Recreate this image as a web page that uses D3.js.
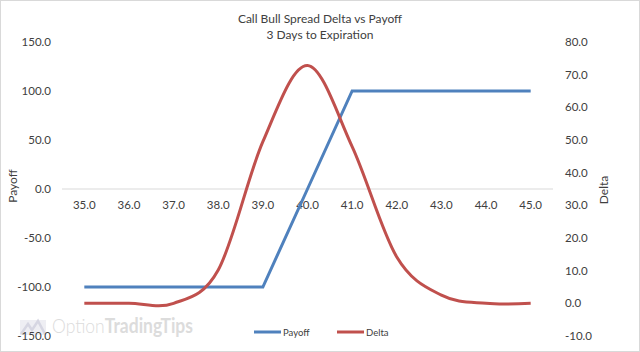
<!DOCTYPE html>
<html>
<head>
<meta charset="utf-8">
<script src="https://cdn.jsdelivr.net/npm/d3@7"></script>
<style>
  html, body { margin: 0; padding: 0; background: #fff; }
  text { font-family: Lato, "Liberation Sans", sans-serif; fill: #404040; }
</style>
</head>
<body>
<script>
// strike prices (category axis)
const strikes = [35, 36, 37, 38, 39, 40, 41, 42, 43, 44, 45]
// payoff at expiration
const payoff = [-100, -100, -100, -100, -100, 0, 100, 100, 100, 100, 100]
// delta, 3 days to expiration
const delta = [0, 0, 0, 10.2, 49.5, 72.8, 48, 14.2, 2.5, 0, 0]

const leftTicks = [-150, -100, -50, 0, 50, 100, 150]
const rightTicks = [-10, 0, 10, 20, 30, 40, 50, 60, 70, 80]
const titleLines = ["Call Bull Spread Delta vs Payoff", "3 Days to Expiration"]

const width = 640, height = 352
const plot = {left: 62, right: 553, top: 42, bottom: 336}

const svg = d3.select("body").append("svg")
    .attr("width", width)
    .attr("height", height)

// chart border
svg.append("rect")
    .attr("x", 0.5).attr("y", 0.5)
    .attr("width", width - 1).attr("height", height - 1)
    .attr("fill", "#fff")
    .attr("stroke", "#d9d9d9")

const x = d3.scaleLinear()
    .domain([34.5, 45.5])
    .range([plot.left, plot.right])

const yL = d3.scaleLinear()
    .domain([-150, 150])
    .range([plot.bottom, plot.top])

const yR = d3.scaleLinear()
    .domain([-10, 80])
    .range([plot.bottom, plot.top])

// watermark
const wm = svg.append("g").attr("transform", "translate(18,318)")
wm.append("path")
    .attr("d", "M2,2 L28,2 L28,17 L2,17 Z")
    .attr("fill", "#eeeef3")
wm.append("path")
    .attr("d", "M3,16 L10,6 L14,12 L20,3 L27,16")
    .attr("fill", "none")
    .attr("stroke", "#d6d6e2")
    .attr("stroke-width", 2.5)
const wmText = svg.append("text")
    .attr("x", 52).attr("y", 333)
    .attr("textLength", 141)
    .attr("lengthAdjust", "spacingAndGlyphs")
    .style("font-size", "20px")
    .style("fill", "#dcdcdc")
wmText.append("tspan").text("Option").style("font-weight", 300).style("fill", "#dcdcdc")
wmText.append("tspan").text("TradingTips").style("font-weight", 700).style("fill", "#dcdcdc")

// title
svg.append("g").selectAll("text")
    .data(titleLines)
    .join("text")
    .attr("x", 320)
    .attr("y", (d, i) => 23 + i * 16)
    .attr("text-anchor", "middle")
    .style("font-size", "12px")
    .text(d => d)

// category axis line at payoff 0
svg.append("line")
    .attr("x1", plot.left).attr("x2", plot.right)
    .attr("y1", yL(0)).attr("y2", yL(0))
    .attr("stroke", "#d9d9d9")

svg.append("g").selectAll("text")
    .data(strikes)
    .join("text")
    .attr("x", d => x(d))
    .attr("y", yL(0) + 20)
    .attr("text-anchor", "middle")
    .style("font-size", "11.5px")
    .text(d => d.toFixed(1))

// left axis labels
svg.append("g").selectAll("text")
    .data(leftTicks)
    .join("text")
    .attr("x", 51)
    .attr("y", d => yL(d) + 4)
    .attr("text-anchor", "end")
    .style("font-size", "11.5px")
    .text(d => d.toFixed(1))

// right axis labels
svg.append("g").selectAll("text")
    .data(rightTicks)
    .join("text")
    .attr("x", 565)
    .attr("y", d => yR(d) + 4)
    .attr("text-anchor", "start")
    .style("font-size", "11.5px")
    .text(d => d.toFixed(1))

// axis titles
svg.append("text")
    .attr("transform", "translate(17,186) rotate(-90)")
    .attr("text-anchor", "middle")
    .style("font-size", "12px")
    .text("Payoff")

svg.append("text")
    .attr("transform", "translate(608,190) rotate(-90)")
    .attr("text-anchor", "middle")
    .style("font-size", "12px")
    .text("Delta")

// series
const payoffLine = d3.line()
    .x((d, i) => x(strikes[i]))
    .y(d => yL(d))

const deltaLine = d3.line()
    .x((d, i) => x(strikes[i]))
    .y(d => yR(d))
    .curve(d3.curveCardinal.tension(0))

svg.append("path")
    .datum(payoff)
    .attr("d", payoffLine)
    .attr("fill", "none")
    .attr("stroke", "#4f81bd")
    .attr("stroke-width", 3)

svg.append("path")
    .datum(delta)
    .attr("d", deltaLine)
    .attr("fill", "none")
    .attr("stroke", "#c0504d")
    .attr("stroke-width", 3)

// legend
const legend = [
    {name: "Payoff", color: "#4f81bd", x: 254},
    {name: "Delta", color: "#c0504d", x: 337}
]
const lg = svg.append("g").selectAll("g")
    .data(legend)
    .join("g")
    .attr("transform", d => `translate(${d.x},332)`)
lg.append("line")
    .attr("x1", 0).attr("x2", 27)
    .attr("stroke", d => d.color)
    .attr("stroke-width", 3)
lg.append("text")
    .attr("x", 29)
    .attr("y", 3.5)
    .style("font-size", "9.5px")
    .text(d => d.name)
</script>
</body>
</html>
